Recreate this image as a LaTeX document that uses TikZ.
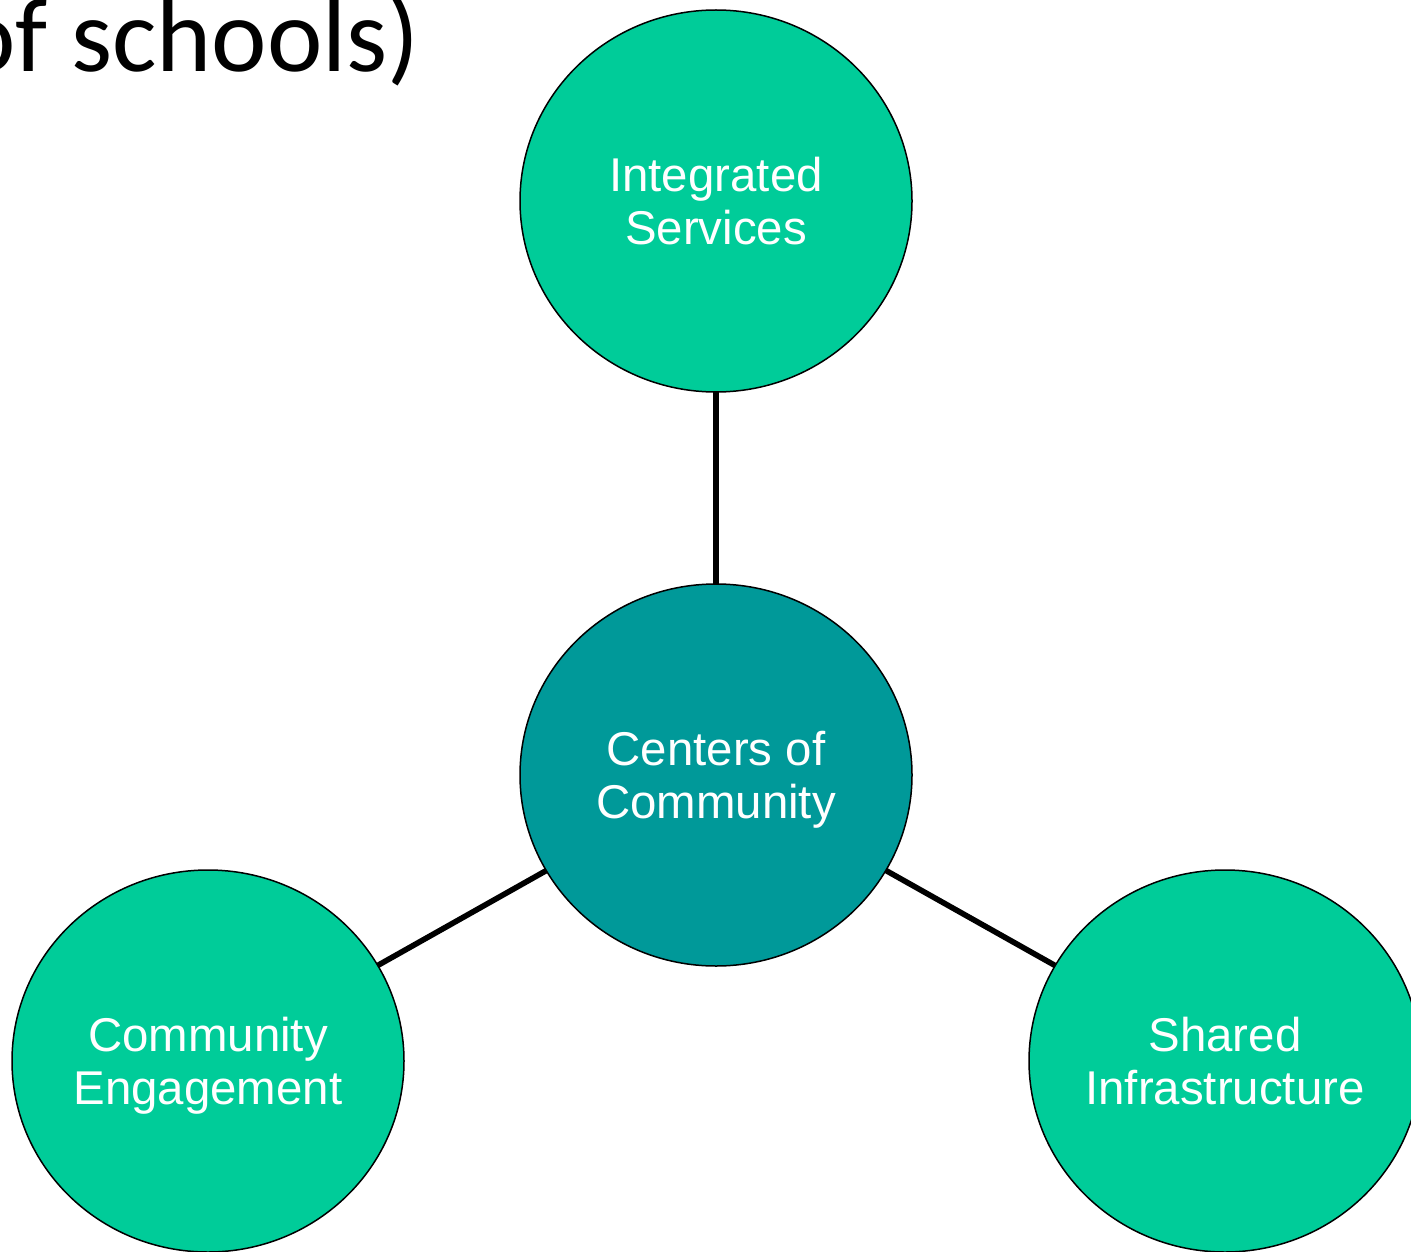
\documentclass[tikz,border=0pt]{standalone}
\usepackage{fontspec}
\setmainfont{Liberation Sans}
\newfontfamily\slidefont{Carlito}
\usepackage{xcolor}
\usetikzlibrary{shapes.geometric,positioning}

\definecolor{pillargreen}{HTML}{00CC99}
\definecolor{hubteal}{HTML}{009999}

\tikzset{
  pillar/.style={ellipse, draw=black, line width=0.75pt, fill=pillargreen,
    minimum width=196pt, minimum height=191pt, inner sep=0pt, outer sep=0pt},
  hub/.style={pillar, fill=hubteal},
  caption/.style={text=white, align=center, text depth=0pt, inner sep=0pt,
    font=\fontsize{23.7pt}{26.5pt}\selectfont},
  link/.style={line width=2.8pt, black}
}

\begin{document}
\begin{tikzpicture}[x=0.5pt, y=-0.5pt]
    \useasboundingbox (0,0) rectangle (1411,1251);

    % Slide title (cut off)
    \node [anchor=base east, inner sep=0pt, font=\slidefont\fontsize{52.5pt}{63pt}\selectfont] (title) at (420,72) {of schools)};

    % Hub and pillars
    \node [hub] (hub) at (716,775) {};
    \node [pillar] (services) at (716,201) {};
    \node [pillar] (engage) at (208,1061) {};
    \node [pillar] (infra) at (1225,1061) {};

    % Labels
    \node [caption] (hub-text) at (hub) {Centers of\\Community};
    \node [caption] (services-text) at (services) {Integrated\\Services};
    \node [caption] (engage-text) at (engage) {Community\\Engagement};
    \node [caption] (infra-text) at (infra) {Shared\\Infrastructure};

    % Connectors
    \draw [link] (services) -- (hub);
    \draw [link] (hub) -- (engage);
    \draw [link] (hub) -- (infra);
\end{tikzpicture}
\end{document}
